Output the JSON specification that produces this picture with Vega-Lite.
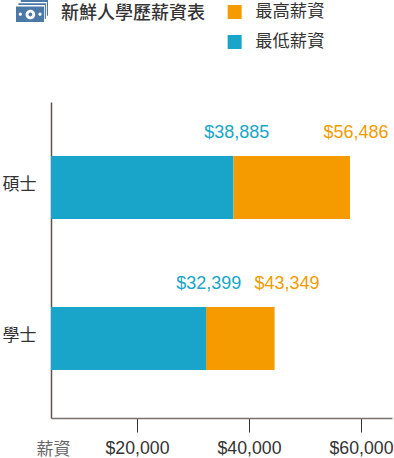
{
"$schema":"https://vega.github.io/schema/vega-lite/v6.json",
"width":341,"height":316,
"autosize":{"type":"none"},
"padding":{"left":51,"top":102,"right":2,"bottom":40},
"background":"white",
"title":{"text":"新鮮人學歷薪資表","anchor":"start","frame":"group","dx":10,"dy":32,"fontSize":18,"fontWeight":500,"color":"#333333","font":"Noto Sans CJK TC"},
"data":{"values":[
{"degree":"碩士","series":"最低薪資","start":0,"end":37232,"label":"$38,885","labelAt":37800},
{"degree":"碩士","series":"最高薪資","start":37232,"end":58036,"label":"$56,486","labelAt":59100},
{"degree":"學士","series":"最低薪資","start":0,"end":32321,"label":"$32,399","labelAt":32800},
{"degree":"學士","series":"最高薪資","start":32321,"end":44571,"label":"$43,349","labelAt":46800}
]},
"layer":[
{"mark":{"type":"bar","clip":true},
"encoding":{
"y":{"field":"degree","type":"nominal","sort":["碩士","學士"],
"scale":{"paddingInner":0.583,"paddingOuter":0.338,"align":0.53},
"axis":{"title":null,"ticks":false,"labelPadding":15,"labelFontSize":17,"labelColor":"#333333","labelFont":"Noto Sans CJK TC","domainColor":"#5e5350","domainWidth":1.5,"grid":false,"labelOffset":-3}},
"x":{"field":"start","type":"quantitative","scale":{"domain":[4643,65536],"nice":false,"zero":false},
"axis":{"values":[20000,40000,60000],"format":"$,.0f","grid":false,"tickSize":14,"tickColor":"#333333","tickWidth":1,"domainColor":"#7a706c","domainWidth":1.5,"labelFontSize":17.7,"labelFont":"Liberation Sans","labelColor":"#333333","labelPadding":16,"labelBaseline":"middle","title":"薪資","titleFont":"Noto Sans CJK TC","titleFontSize":17,"titleFontWeight":"normal","titleColor":"#666666","titleX":-15,"titleY":31,"titleAnchor":"start","titleAlign":"left","titleBaseline":"middle"}},
"x2":{"field":"end"},
"color":{"field":"series","type":"nominal",
"scale":{"domain":["最高薪資","最低薪資"],"range":["#F59B00","#19A5C9"]},
"legend":{"title":null,"orient":"none","legendX":175,"legendY":-100,"symbolType":"square","symbolSize":196,"symbolStrokeWidth":0,"labelFontSize":17.3,"labelFont":"Noto Sans CJK TC","labelColor":"#333333","labelOffset":12,"rowPadding":10,"clipHeight":20}}
}},
{"mark":{"type":"text","font":"Liberation Sans","fontSize":18,"dy":-55,"align":"center","baseline":"middle"},
"encoding":{
"y":{"field":"degree","type":"nominal","sort":["碩士","學士"]},
"x":{"field":"labelAt","type":"quantitative"},
"text":{"field":"label","type":"nominal"},
"color":{"field":"series","type":"nominal","legend":null}
}},
{"data":{"values":[{"icon":"鈔票"}]},
"mark":{"type":"point","filled":true,"opacity":0},
"encoding":{
"shape":{"field":"icon","type":"nominal",
"scale":{"domain":["鈔票"],"range":["M-1 -0.28H0.75V0.69H-1ZM-0.4 0.22A0.3 0.3 0 1 0 0.2 0.22A0.3 0.3 0 1 0 -0.4 0.22ZM-0.22 0.22A0.12 0.12 0 1 1 0.02 0.22A0.12 0.12 0 1 1 -0.22 0.22ZM-0.83 0.2A0.1 0.1 0 1 0 -0.63 0.2A0.1 0.1 0 1 0 -0.83 0.2ZM0.4 0.2A0.1 0.1 0 1 0 0.6 0.2A0.1 0.1 0 1 0 0.4 0.2ZM-0.85 -0.48H0.87V0.5H0.8V-0.38H-0.85ZM-0.7 -0.69H1V0.3H0.93V-0.57H-0.7Z"]},
"legend":{"title":null,"orient":"none","legendX":-35,"legendY":-107,"symbolSize":1024,"symbolOpacity":1,"symbolFillColor":"#2F5A9B","symbolStrokeWidth":0,"labelExpr":"''","labelFontSize":1}}
}}
],
"config":{"view":{"stroke":null},"axis":{"labelFontWeight":"normal"}}
}
